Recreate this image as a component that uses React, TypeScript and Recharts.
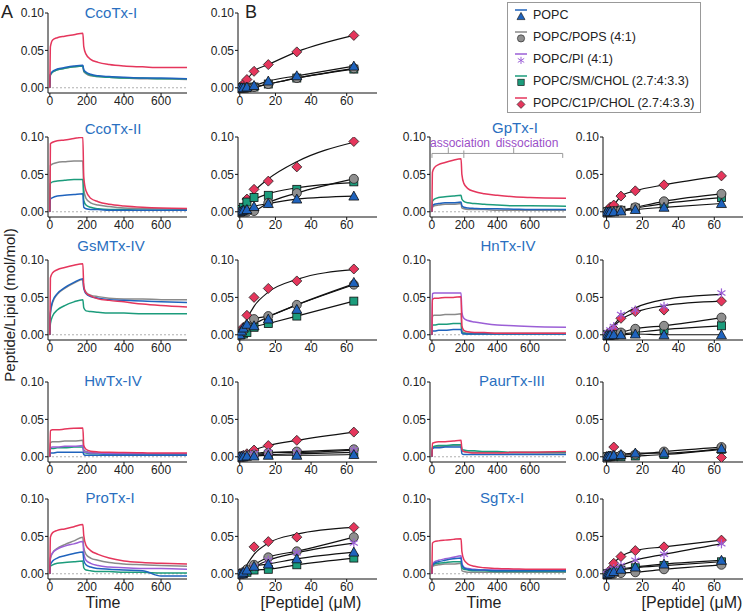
import React from 'react';
import { LineChart, Line, XAxis, YAxis, ReferenceLine } from 'recharts';

// lipid keys, legend names and colours
const lipidKeys = ['popc', 'pops', 'pi', 'sm', 'c1p'];
const lipidNames = ['POPC', 'POPC/POPS (4:1)', 'POPC/PI (4:1)', 'POPC/SM/CHOL (2.7:4:3.3)', 'POPC/C1P/CHOL (2.7:4:3.3)'];
const lipidColors: Record<string, string> = {
  popc: '#1f63bd',
  pops: '#8a8a8a',
  pi: '#9b5fd6',
  sm: '#1c9c7c',
  c1p: '#e5365c',
};

// x values
const timeA = [0, 3, 15, 40, 80, 130, 178, 183, 195, 220, 260, 320, 400, 500, 600, 740];
const timeC = [0, 3, 15, 40, 80, 130, 178, 183, 195, 220, 260, 320, 400, 500, 600, 820];
const peptideConc = [0, 1, 2, 4, 8, 16, 32, 64];
const timeTicks = [0, 200, 400, 600];
const concTicks = [0, 20, 40, 60];
const ratioTicks = [0, 0.05, 0.1];

// sensorgrams (peptide/lipid vs time)
const ccoTxISens = {
  c1p: [0, 0.055, 0.064, 0.067, 0.069, 0.071, 0.073, 0.055, 0.045, 0.038, 0.034, 0.031, 0.029, 0.028, 0.027, 0.027],
  popc: [0, 0.018, 0.022, 0.025, 0.027, 0.029, 0.030, 0.024, 0.021, 0.018, 0.016, 0.015, 0.014, 0.013, 0.013, 0.012],
  pops: [0, 0.017, 0.021, 0.024, 0.026, 0.028, 0.029, 0.022, 0.019, 0.016, 0.015, 0.014, 0.013, 0.012, 0.012, 0.011],
  sm: [0, 0.017, 0.021, 0.024, 0.026, 0.028, 0.029, 0.023, 0.020, 0.017, 0.015, 0.014, 0.013, 0.013, 0.012, 0.012],
};
const ccoTxIISens = {
  c1p: [0, 0.091, 0.093, 0.095, 0.096, 0.098, 0.0995, 0.046, 0.028, 0.018, 0.0135, 0.010, 0.0077, 0.006, 0.005, 0.0045],
  pops: [0, 0.062, 0.064, 0.066, 0.067, 0.068, 0.068, 0.030, 0.018, 0.012, 0.009, 0.007, 0.005, 0.004, 0.004, 0.003],
  sm: [0, 0.038, 0.040, 0.041, 0.042, 0.043, 0.043, 0.015, 0.009, 0.006, 0.004, 0.003, 0.003, 0.002, 0.002, 0.002],
  popc: [0, 0.017, 0.019, 0.021, 0.022, 0.023, 0.024, 0.006, 0.004, 0.003, 0.003, 0.002, 0.002, 0.002, 0.002, 0.002],
};
const gsmTxIVSens = {
  c1p: [0, 0.076, 0.083, 0.087, 0.090, 0.093, 0.095, 0.065, 0.056, 0.052, 0.048, 0.046, 0.044, 0.041, 0.039, 0.037],
  popc: [0, 0.030, 0.045, 0.055, 0.063, 0.070, 0.075, 0.062, 0.055, 0.051, 0.049, 0.047, 0.046, 0.045, 0.044, 0.043],
  pops: [0, 0.028, 0.043, 0.054, 0.062, 0.069, 0.074, 0.063, 0.057, 0.053, 0.051, 0.049, 0.048, 0.048, 0.047, 0.047],
  sm: [0, 0.015, 0.025, 0.033, 0.039, 0.044, 0.047, 0.036, 0.032, 0.031, 0.030, 0.029, 0.029, 0.028, 0.028, 0.028],
};
const hwTxIVSens = {
  c1p: [0, 0.035, 0.036, 0.036, 0.037, 0.038, 0.0385, 0.015, 0.010, 0.0075, 0.0065, 0.006, 0.0057, 0.0053, 0.005, 0.005],
  pops: [0, 0.019, 0.020, 0.020, 0.021, 0.021, 0.022, 0.009, 0.007, 0.006, 0.005, 0.005, 0.004, 0.004, 0.004, 0.004],
  pi: [0, 0.012, 0.013, 0.013, 0.014, 0.014, 0.015, 0.007, 0.006, 0.005, 0.005, 0.004, 0.004, 0.004, 0.004, 0.004],
  sm: [0, 0.011, 0.011, 0.012, 0.012, 0.013, 0.013, 0.006, 0.005, 0.004, 0.004, 0.003, 0.003, 0.003, 0.003, 0.003],
  popc: [0, 0.005, 0.005, 0.006, 0.006, 0.006, 0.006, 0.003, 0.002, 0.002, 0.002, 0.002, 0.002, 0.002, 0.002, 0.002],
};
const proTxISens = {
  c1p: [0, 0.049, 0.055, 0.058, 0.060, 0.063, 0.066, 0.051, 0.038, 0.031, 0.026, 0.021, 0.017, 0.015, 0.014, 0.013],
  pops: [0, 0.020, 0.028, 0.034, 0.039, 0.044, 0.049, 0.035, 0.026, 0.021, 0.018, 0.015, 0.013, 0.012, 0.011, 0.010],
  pi: [0, 0.022, 0.028, 0.033, 0.037, 0.040, 0.043, 0.028, 0.018, 0.014, 0.011, 0.009, 0.008, 0.007, 0.007, 0.006],
  popc: [0, 0.012, 0.017, 0.021, 0.024, 0.027, 0.029, 0.018, 0.012, 0.009, 0.007, 0.006, 0.005, 0.004, -0.003, -0.003],
  sm: [0, 0.010, 0.012, 0.014, 0.015, 0.016, 0.017, 0.008, 0.005, 0.004, 0.003, 0.003, 0.002, 0.002, 0.001, 0.001],
};
const gpTxISens = {
  c1p: [0, 0.053, 0.059, 0.063, 0.066, 0.069, 0.071, 0.050, 0.038, 0.031, 0.027, 0.024, 0.022, 0.020, 0.019, 0.018],
  sm: [0, 0.014, 0.017, 0.019, 0.020, 0.021, 0.022, 0.017, 0.014, 0.012, 0.011, 0.010, 0.009, 0.008, 0.008, 0.0075],
  popc: [0, 0.008, 0.010, 0.011, 0.012, 0.012, 0.013, 0.008, 0.006, 0.005, 0.0045, 0.004, 0.004, 0.0035, 0.003, 0.003],
  pops: [0, 0.006, 0.008, 0.009, 0.010, 0.010, 0.011, 0.005, 0.004, 0.003, 0.003, 0.003, 0.002, 0.002, 0.002, 0.002],
};
const hnTxIVSens = {
  pi: [0, 0.055, 0.056, 0.056, 0.056, 0.056, 0.056, 0.030, 0.022, 0.019, 0.017, 0.015, 0.013, 0.012, 0.011, 0.010],
  c1p: [0, 0.047, 0.049, 0.049, 0.050, 0.050, 0.051, 0.012, 0.006, 0.004, 0.003, 0.003, 0.002, 0.002, 0.002, 0.002],
  pops: [0, 0.025, 0.026, 0.026, 0.027, 0.027, 0.028, 0.005, 0.003, 0.002, 0.002, 0.002, 0.002, 0.002, 0.002, 0.002],
  sm: [0, 0.013, 0.013, 0.014, 0.014, 0.015, 0.015, 0.003, 0.002, 0.001, 0.001, 0.001, 0.001, 0.001, 0.001, 0.001],
  popc: [0, 0.005, 0.005, 0.006, 0.006, 0.007, 0.007, 0.002, 0.001, 0.001, 0.001, 0.001, 0.001, 0.001, 0.001, 0.001],
};
const paurTxIIISens = {
  c1p: [0, 0.018, 0.019, 0.020, 0.020, 0.021, 0.022, 0.010, 0.007, 0.006, 0.005, 0.005, 0.005, 0.006, 0.006, 0.007],
  sm: [0, 0.013, 0.014, 0.015, 0.015, 0.016, 0.016, 0.010, 0.009, 0.008, 0.008, 0.007, 0.007, 0.006, 0.006, 0.006],
  pops: [0, 0.012, 0.013, 0.014, 0.014, 0.015, 0.015, 0.008, 0.007, 0.006, 0.006, 0.006, 0.006, 0.005, 0.005, 0.005],
  popc: [0, 0.011, 0.012, 0.012, 0.013, 0.013, 0.013, 0.004, 0.003, 0.003, 0.003, 0.003, 0.003, 0.003, 0.003, 0.003],
};
const sgTxISens = {
  c1p: [0, 0.041, 0.043, 0.044, 0.045, 0.046, 0.047, 0.030, 0.019, 0.013, 0.010, 0.008, 0.007, 0.0065, 0.006, 0.006],
  pi: [0, 0.012, 0.016, 0.018, 0.020, 0.022, 0.024, 0.014, 0.009, 0.007, 0.006, 0.005, 0.005, 0.005, 0.005, 0.005],
  popc: [0, 0.011, 0.014, 0.016, 0.018, 0.020, 0.021, 0.012, 0.008, 0.006, 0.005, 0.005, 0.004, 0.004, 0.004, 0.004],
  sm: [0, 0.011, 0.013, 0.014, 0.015, 0.016, 0.016, 0.008, 0.006, 0.005, 0.004, 0.004, 0.003, 0.003, 0.003, 0.003],
  pops: [0, 0.010, 0.011, 0.012, 0.013, 0.013, 0.014, 0.004, 0.003, 0.002, 0.002, 0.002, 0.002, 0.002, 0.002, 0.002],
};

// binding isotherms (peptide/lipid vs [peptide])
const ccoTxIDose = {
  c1p: [0, 0.002, 0.005, 0.011, 0.022, 0.031, 0.048, 0.070],
  sm: [0, 0, 0, 0, 0.001, 0.005, 0.013, 0.025],
  pops: [0, 0, 0, 0, 0.001, 0.005, 0.013, 0.026],
  popc: [0, 0, 0, 0.001, 0.003, 0.009, 0.016, 0.029],
};
const ccoTxIIDose = {
  c1p: [0, 0.003, 0.006, 0.017, 0.030, 0.041, 0.060, 0.094],
  sm: [0, 0.003, 0.006, 0.013, 0.019, 0.022, 0.030, 0.040],
  pops: [0, 0, 0, 0, 0.001, 0.012, 0.025, 0.044],
  popc: [0, 0.001, 0.002, 0.003, 0.007, 0.011, 0.017, 0.021],
};
const ccoTxIIFit = {
  c1p: [0, 0.003, 0.007, 0.014, 0.027, 0.044, 0.067, 0.093],
  sm: [0, 0.002, 0.005, 0.009, 0.016, 0.024, 0.032, 0.039],
};
const gsmTxIVDose = {
  c1p: [0, 0.005, 0.010, 0.026, 0.050, 0.062, 0.072, 0.088],
  sm: [0, 0.001, 0.001, 0.003, 0.010, 0.015, 0.025, 0.045],
  pops: [0, 0.003, 0.006, 0.012, 0.021, 0.025, 0.040, 0.067],
  popc: [0, 0.005, 0.009, 0.014, 0.012, 0.021, 0.034, 0.070],
};
const gsmTxIVFit = {
  c1p: [0, 0.004, 0.010, 0.021, 0.038, 0.057, 0.074, 0.087],
  popc: [0, 0.002, 0.004, 0.008, 0.014, 0.024, 0.040, 0.068],
};
const hwTxIVDose = {
  c1p: [0, 0.001, 0.002, 0.004, 0.009, 0.015, 0.022, 0.033],
  sm: [0, 0, 0, 0.001, 0.002, 0.003, 0.004, 0.006],
  pops: [0, 0, 0.001, 0.002, 0.003, 0.005, 0.007, 0.010],
  pi: [0, 0, 0.001, 0.002, 0.004, 0.006, 0.006, 0.009],
  popc: [0, 0, 0, 0.001, 0.001, 0.002, 0.002, 0.003],
};
const proTxIDose = {
  c1p: [0, 0, 0.001, 0.004, 0.036, 0.043, 0.049, 0.062],
  sm: [0, 0, 0, 0.002, 0.005, 0.006, 0.012, 0.021],
  pops: [0, 0, 0.002, 0.006, 0.012, 0.022, 0.030, 0.049],
  pi: [0, 0, 0.001, 0.004, 0.009, 0.018, 0.028, 0.041],
  popc: [0, 0, 0.002, 0.005, 0.010, 0.013, 0.020, 0.029],
};
const proTxIFit = {
  c1p: [0, 0.001, 0.004, 0.012, 0.026, 0.041, 0.053, 0.062],
};
const gpTxIDose = {
  c1p: [0, 0.003, 0.006, 0.009, 0.021, 0.028, 0.036, 0.048],
  sm: [0, 0, 0, 0.001, 0.002, 0.005, 0.011, 0.019],
  pops: [0, 0, 0, 0.001, 0.002, 0.006, 0.014, 0.024],
  popc: [0, 0, 0, 0, 0.001, 0.003, 0.006, 0.011],
};
const hnTxIVDose = {
  c1p: [0, 0.002, 0.004, 0.008, 0.022, 0.031, 0.033, 0.045],
  sm: [0, 0, 0, 0, 0.001, 0.003, 0.007, 0.012],
  pops: [0, 0, 0, 0, 0.003, 0.008, 0.012, 0.023],
  pi: [0, 0.003, 0.0065, 0.011, 0.027, 0.033, 0.038, 0.056],
  popc: [-0.001, -0.001, 0, 0, 0, 0.001, 0, 0],
};
const hnTxIVFit = {
  c1p: [0, 0.002, 0.005, 0.011, 0.020, 0.030, 0.039, 0.045],
  pi: [0, 0.003, 0.006, 0.013, 0.024, 0.036, 0.047, 0.054],
};
const paurTxIIIDose = {
  c1p: [0, null, null, 0.013, null, null, null, -0.001],
  sm: [0, 0, 0, 0, 0, 0.001, 0.003, 0.010],
  pops: [0, 0, 0.001, 0.001, 0.002, 0.003, 0.007, 0.013],
  popc: [0, 0.001, 0.001, 0.002, 0.003, 0.005, 0.005, 0.011],
};
const sgTxIDose = {
  c1p: [0, 0.002, 0.005, 0.014, 0.023, 0.031, 0.036, 0.045],
  sm: [0, 0, 0.001, 0.003, 0.005, 0.008, 0.011, 0.016],
  pops: [0, 0, 0, 0, 0.001, 0.002, 0.006, 0.012],
  pi: [0, 0.002, 0.004, 0.007, 0.011, 0.018, 0.026, 0.040],
  popc: [-0.001, 0, 0.001, 0.003, 0.006, 0.009, 0.013, 0.018],
};

const FONT = "'Liberation Sans', Arial, Helvetica, sans-serif";
const TITLE_BLUE = '#2a6fc0';
const SENS_ORDER = ['pops', 'sm', 'pi', 'popc', 'c1p'];
const DOSE_ORDER = ['c1p', 'sm', 'pops', 'pi', 'popc'];

// layout
const Y_W = 44;
const M_TOP = 6;
const PLOT_H = 80;
const X_H = 18;
const ROWS = [13, 137, 260, 382, 499];
const COL_A = { axis: 48, w: 139, right: 4, dom: [-10, 740] };
const COL_B = { axis: 238, w: 139, right: 4, dom: [-1, 77] };
const COL_C = { axis: 430, w: 136, right: 4, dom: [-12, 820] };
const COL_D = { axis: 603, w: 140, right: 0, dom: [-2, 76] };

const tickStyle = { fontSize: 12, fill: '#222', fontFamily: FONT };

function Marker({ kind, cx, cy }: { kind: string; cx: number; cy: number }) {
  const c = lipidColors[kind];
  if (kind === 'popc') {
    return <polygon points={`${cx},${cy - 5} ${cx + 5},${cy + 4} ${cx - 5},${cy + 4}`} fill={c} stroke="#111" strokeWidth={0.8} />;
  }
  if (kind === 'pops') return <circle cx={cx} cy={cy} r={4.5} fill="#8f8f8f" stroke="#222" strokeWidth={0.8} />;
  if (kind === 'sm') return <rect x={cx - 4} y={cy - 4} width={8} height={8} fill={c} stroke="#111" strokeWidth={0.8} />;
  if (kind === 'c1p') {
    return <polygon points={`${cx},${cy - 5} ${cx + 5},${cy} ${cx},${cy + 5} ${cx - 5},${cy}`} fill={c} stroke="#222" strokeWidth={0.8} />;
  }
  return (
    <g stroke={c} strokeWidth={1.2}>
      <line x1={cx} y1={cy - 4.5} x2={cx} y2={cy + 4.5} />
      <line x1={cx - 4} y1={cy - 2.5} x2={cx + 4} y2={cy + 2.5} />
      <line x1={cx - 4} y1={cy + 2.5} x2={cx + 4} y2={cy - 2.5} />
    </g>
  );
}

function axes(col: any, ticks: number[]) {
  return [
    <XAxis
      key="x"
      dataKey="x"
      type="number"
      domain={col.dom}
      ticks={ticks}
      allowDataOverflow
      height={X_H}
      tick={tickStyle}
      tickSize={3}
      tickMargin={0}
      stroke="#111"
      interval={0}
    />,
    <YAxis
      key="y"
      type="number"
      domain={[-0.007, 0.1]}
      ticks={ratioTicks}
      allowDataOverflow
      width={Y_W}
      tick={tickStyle}
      tickSize={3}
      tickMargin={1}
      stroke="#111"
      interval={0}
      tickFormatter={(v: number) => v.toFixed(2)}
    />,
  ];
}

function Sensorgram({ col, row, time, series, children }: any) {
  const rows = time.map((t: number, i: number) => {
    const r: any = { x: t };
    Object.keys(series).forEach((k) => (r[k] = series[k][i]));
    return r;
  });
  return (
    <div style={{ position: 'absolute', left: col.axis - Y_W, top: ROWS[row] - M_TOP }}>
      <LineChart
        width={Y_W + col.w + col.right}
        height={M_TOP + PLOT_H + X_H}
        data={rows}
        margin={{ top: M_TOP, right: col.right, bottom: 0, left: 0 }}
      >
        {axes(col, timeTicks)}
        <ReferenceLine y={0} stroke="#9a9a9a" strokeDasharray="2 2" strokeWidth={0.8} />
        {SENS_ORDER.filter((k) => series[k]).map((k) => (
          <Line
            key={k}
            dataKey={k}
            type="monotone"
            stroke={lipidColors[k]}
            strokeWidth={1.5}
            dot={false}
            isAnimationActive={false}
          />
        ))}
        {children}
      </LineChart>
    </div>
  );
}

function Isotherm({ col, row, points, fits = {}, noFit = [] }: any) {
  const rows = peptideConc.map((c, i) => {
    const r: any = { x: c };
    Object.keys(points).forEach((k) => {
      r[k] = points[k][i];
      r[k + 'Fit'] = fits[k] ? fits[k][i] : points[k][i];
    });
    return r;
  });
  const keys = DOSE_ORDER.filter((k) => points[k]);
  return (
    <div style={{ position: 'absolute', left: col.axis - Y_W, top: ROWS[row] - M_TOP }}>
      <LineChart
        width={Y_W + col.w + col.right}
        height={M_TOP + PLOT_H + X_H}
        data={rows}
        margin={{ top: M_TOP, right: col.right, bottom: 0, left: 0 }}
      >
        {axes(col, concTicks)}
        {keys
          .filter((k) => !noFit.includes(k))
          .map((k) => (
            <Line
              key={k + 'Fit'}
              dataKey={k + 'Fit'}
              type="monotone"
              stroke="#111"
              strokeWidth={1.2}
              dot={false}
              connectNulls
              isAnimationActive={false}
            />
          ))}
        {keys.map((k) => (
          <Line
            key={k}
            dataKey={k}
            stroke="none"
            isAnimationActive={false}
            dot={(p: any) =>
              p.cy == null || p.value == null || isNaN(p.cy) ? (
                <g key={k + p.index} />
              ) : (
                <Marker key={k + p.index} kind={k} cx={p.cx} cy={p.cy} />
              )
            }
          />
        ))}
      </LineChart>
    </div>
  );
}

function Text({ x, y, children, size = 15, color = '#222', anchor = 'center' }: any) {
  const tx = anchor === 'center' ? '-50%' : '0';
  return (
    <div
      style={{
        position: 'absolute',
        left: x,
        top: y,
        transform: `translate(${tx}, -50%)`,
        fontSize: size,
        color,
        fontFamily: FONT,
        whiteSpace: 'nowrap',
        lineHeight: 1,
      }}
    >
      {children}
    </div>
  );
}

function LegendBox() {
  return (
    <div
      style={{
        position: 'absolute',
        left: 507,
        top: 2,
        width: 192,
        height: 109,
        border: '1px solid #999',
        background: '#fff',
        fontFamily: FONT,
      }}
    >
      {lipidKeys.map((k, i) => (
        <div
          key={k}
          style={{
            position: 'absolute',
            left: 6,
            top: 3 + i * 22,
            height: 18,
            display: 'flex',
            alignItems: 'center',
            whiteSpace: 'nowrap',
          }}
        >
          <svg width={14} height={14}>
            <line x1={1} y1={2} x2={13} y2={2} stroke={lipidColors[k]} strokeWidth={1.5} />
            <g transform="scale(0.8) translate(1.75, 2.5)">
              <Marker kind={k} cx={7} cy={8} />
            </g>
          </svg>
          <span style={{ marginLeft: 5, fontSize: 12.5, color: '#222' }}>{lipidNames[i]}</span>
        </div>
      ))}
    </div>
  );
}

const bracketY = 0.078;

export default function App() {
  return (
    <div style={{ position: 'absolute', left: 0, top: 0, width: 745, height: 611, overflow: 'hidden', background: '#fff' }}>
      {/* column A: sensorgrams */}
      <Sensorgram col={COL_A} row={0} time={timeA} series={ccoTxISens} />
      <Sensorgram col={COL_A} row={1} time={timeA} series={ccoTxIISens} />
      <Sensorgram col={COL_A} row={2} time={timeA} series={gsmTxIVSens} />
      <Sensorgram col={COL_A} row={3} time={timeA} series={hwTxIVSens} />
      <Sensorgram col={COL_A} row={4} time={timeA} series={proTxISens} />

      {/* column B: isotherms */}
      <Isotherm col={COL_B} row={0} points={ccoTxIDose} />
      <Isotherm col={COL_B} row={1} points={ccoTxIIDose} fits={ccoTxIIFit} />
      <Isotherm col={COL_B} row={2} points={gsmTxIVDose} fits={gsmTxIVFit} />
      <Isotherm col={COL_B} row={3} points={hwTxIVDose} />
      <Isotherm col={COL_B} row={4} points={proTxIDose} fits={proTxIFit} />

      {/* right half */}
      <Sensorgram col={COL_C} row={1} time={timeC} series={gpTxISens}>
        <ReferenceLine segment={[{ x: 0, y: bracketY }, { x: 800, y: bracketY }]} stroke="#999" />
        <ReferenceLine segment={[{ x: 0, y: bracketY }, { x: 0, y: bracketY - 0.006 }]} stroke="#999" />
        <ReferenceLine segment={[{ x: 195, y: bracketY + 0.004 }, { x: 195, y: bracketY - 0.006 }]} stroke="#999" />
        <ReferenceLine segment={[{ x: 800, y: bracketY }, { x: 800, y: bracketY - 0.006 }]} stroke="#999" />
        <ReferenceLine segment={[{ x: 100, y: bracketY }, { x: 100, y: bracketY + 0.008 }]} stroke="#999" />
        <ReferenceLine segment={[{ x: 500, y: bracketY }, { x: 500, y: bracketY + 0.008 }]} stroke="#999" />
      </Sensorgram>
      <Sensorgram col={COL_C} row={2} time={timeC} series={hnTxIVSens} />
      <Sensorgram col={COL_C} row={3} time={timeC} series={paurTxIIISens} />
      <Sensorgram col={COL_C} row={4} time={timeC} series={sgTxISens} />

      <Isotherm col={COL_D} row={1} points={gpTxIDose} />
      <Isotherm col={COL_D} row={2} points={hnTxIVDose} fits={hnTxIVFit} />
      <Isotherm col={COL_D} row={3} points={paurTxIIIDose} noFit={['c1p']} />
      <Isotherm col={COL_D} row={4} points={sgTxIDose} />

      <LegendBox />

      {/* labels */}
      <Text x={1} y={12} size={18} anchor="left">A</Text>
      <Text x={245} y={12} size={18} anchor="left">B</Text>
      <Text x={111} y={12} color={TITLE_BLUE}>CcoTx-I</Text>
      <Text x={113} y={128} color={TITLE_BLUE}>CcoTx-II</Text>
      <Text x={111} y={245} color={TITLE_BLUE}>GsMTx-IV</Text>
      <Text x={113} y={380} color={TITLE_BLUE}>HwTx-IV</Text>
      <Text x={110} y={497} color={TITLE_BLUE}>ProTx-I</Text>
      <Text x={515} y={127} color={TITLE_BLUE}>GpTx-I</Text>
      <Text x={508} y={245} color={TITLE_BLUE}>HnTx-IV</Text>
      <Text x={512} y={380} color={TITLE_BLUE}>PaurTx-III</Text>
      <Text x={502} y={497} color={TITLE_BLUE}>SgTx-I</Text>
      <Text x={460} y={143} size={12} color="#9b4fc8">association</Text>
      <Text x={527} y={143} size={12} color="#9b4fc8">dissociation</Text>

      <Text x={103} y={603} size={16}>Time</Text>
      <Text x={484} y={603} size={16}>Time</Text>
      <Text x={311} y={603} size={16}>[Peptide] (μM)</Text>
      <Text x={692} y={603} size={16}>[Peptide] (μM)</Text>

      <div
        style={{
          position: 'absolute',
          left: 9,
          top: 305,
          transform: 'translate(-50%, -50%) rotate(-90deg)',
          fontSize: 15,
          color: '#222',
          fontFamily: FONT,
          whiteSpace: 'nowrap',
          lineHeight: 1,
        }}
      >
        Peptide/Lipid (mol/mol)
      </div>
    </div>
  );
}
